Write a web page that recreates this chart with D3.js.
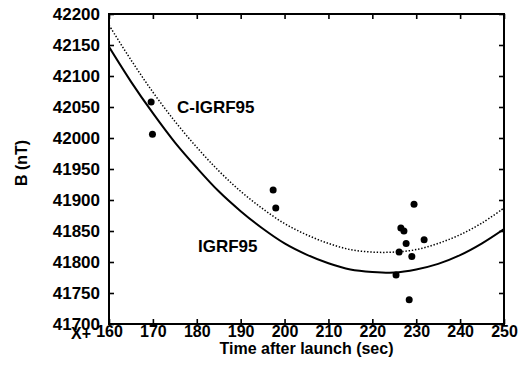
<!DOCTYPE html>
<html>
<head>
<meta charset="utf-8">
<script src="https://cdn.jsdelivr.net/npm/d3@7"></script>
<style>
  html, body { margin: 0; padding: 0; background: #fff; }
  svg { display: block; }
  text { font-family: "Liberation Sans", Arial, Helvetica, sans-serif; font-weight: bold; fill: #000; }
</style>
</head>
<body>
<svg id="chart" width="522" height="372"></svg>
<script>
// ---- data ----
const xTicks = [160, 170, 180, 190, 200, 210, 220, 230, 240, 250];
const yTicks = [41700, 41750, 41800, 41850, 41900, 41950, 42000, 42050, 42100, 42150, 42200];

const curveTimes = [160, 165, 170, 175, 180, 185, 190, 195, 200, 205, 210, 215, 220, 225, 230, 235, 240, 245, 250];
const igrf95 = [42147, 42091, 42040, 41993, 41952, 41914, 41882, 41854, 41830, 41812, 41798, 41788, 41784, 41783, 41788, 41797, 41811, 41830, 41853];
const cIgrf95 = [42182, 42126, 42074, 42027, 41985, 41947, 41914, 41886, 41862, 41844, 41830, 41820, 41816, 41816, 41820, 41830, 41844, 41863, 41887];

const obsTime = [169.6, 169.9, 197.4, 198.0, 229.5, 226.5, 227.2, 227.7, 231.8, 226.1, 229.0, 225.4, 228.4];
const obsB    = [42058, 42006, 41916, 41887, 41893, 41855, 41850, 41830, 41836, 41816, 41809, 41779, 41739];

// ---- layout ----
const svg = d3.select("#chart");
const mLeft = 109, mRight = 504, mTop = 14, mBottom = 324;
const x = d3.scaleLinear().domain([160, 250]).range([mLeft, mRight]);
const y = d3.scaleLinear().domain([41700, 42200]).range([mBottom, mTop]);

svg.append("clipPath").attr("id", "clip")
  .append("rect").attr("x", mLeft).attr("y", mTop).attr("width", mRight - mLeft).attr("height", mBottom - mTop);

const tk = 5;
const gl = svg.append("g").attr("transform", `translate(${mLeft},0)`)
  .call(d3.axisLeft(y).tickValues(yTicks).tickSizeInner(-tk).tickSizeOuter(0).tickPadding(9).tickFormat(d3.format("d")));
const gb = svg.append("g").attr("transform", `translate(0,${mBottom})`)
  .call(d3.axisBottom(x).tickValues(xTicks).tickSizeInner(-tk).tickSizeOuter(0).tickPadding(2).tickFormat(d3.format("d")));
const gr = svg.append("g").attr("transform", `translate(${mRight},0)`)
  .call(d3.axisRight(y).tickValues(yTicks).tickSizeInner(-tk).tickSizeOuter(0).tickFormat(""));
const gt = svg.append("g").attr("transform", `translate(0,${mTop})`)
  .call(d3.axisTop(x).tickValues(xTicks).tickSizeInner(-tk).tickSizeOuter(0).tickFormat(""));

[gl, gb, gr, gt].forEach(g => {
  g.select(".domain").remove();
  g.selectAll(".tick line").attr("stroke", "#000").attr("stroke-width", 1.6);
  g.selectAll(".tick text").style("font-family", "'Liberation Sans', Arial, sans-serif").style("font-weight", "bold").attr("fill", "#000");
});
gl.selectAll(".tick text").style("font-size", "17px");
gb.selectAll(".tick text").style("font-size", "16px");

svg.append("rect").attr("x", mLeft).attr("y", mTop).attr("width", mRight - mLeft).attr("height", mBottom - mTop)
  .attr("fill", "none").attr("stroke", "#000").attr("stroke-width", 2);

const pts = (vals) => curveTimes.map((t, i) => [t, vals[i]]);
const line = d3.line().x(d => x(d[0])).y(d => y(d[1])).curve(d3.curveCatmullRom);
const plot = svg.append("g").attr("clip-path", "url(#clip)");
plot.append("path").datum(pts(cIgrf95)).attr("d", line)
  .attr("fill", "none").attr("stroke", "#000").attr("stroke-width", 1.5).attr("stroke-dasharray", "1.4,1.8");
plot.append("path").datum(pts(igrf95)).attr("d", line)
  .attr("fill", "none").attr("stroke", "#000").attr("stroke-width", 2);

svg.append("g").selectAll("circle").data(obsTime).join("circle")
  .attr("cx", (d) => x(d)).attr("cy", (d, i) => y(obsB[i])).attr("r", 3.5).attr("fill", "#000");

svg.append("text").attr("x", 177).attr("y", 113).style("font-size", "17px").text("C-IGRF95");
svg.append("text").attr("x", 198).attr("y", 252).style("font-size", "17px").text("IGRF95");

svg.append("text").attr("x", 71).attr("y", 338.5).style("font-size", "16px").text("X+");
svg.append("text").attr("x", (mLeft + mRight) / 2).attr("y", 353.5).attr("text-anchor", "middle")
  .style("font-size", "16px").text("Time after launch (sec)");
svg.append("text").attr("transform", "translate(27,163) rotate(-90)").attr("text-anchor", "middle")
  .style("font-size", "16px").text("B (nT)");
</script>
</body>
</html>
